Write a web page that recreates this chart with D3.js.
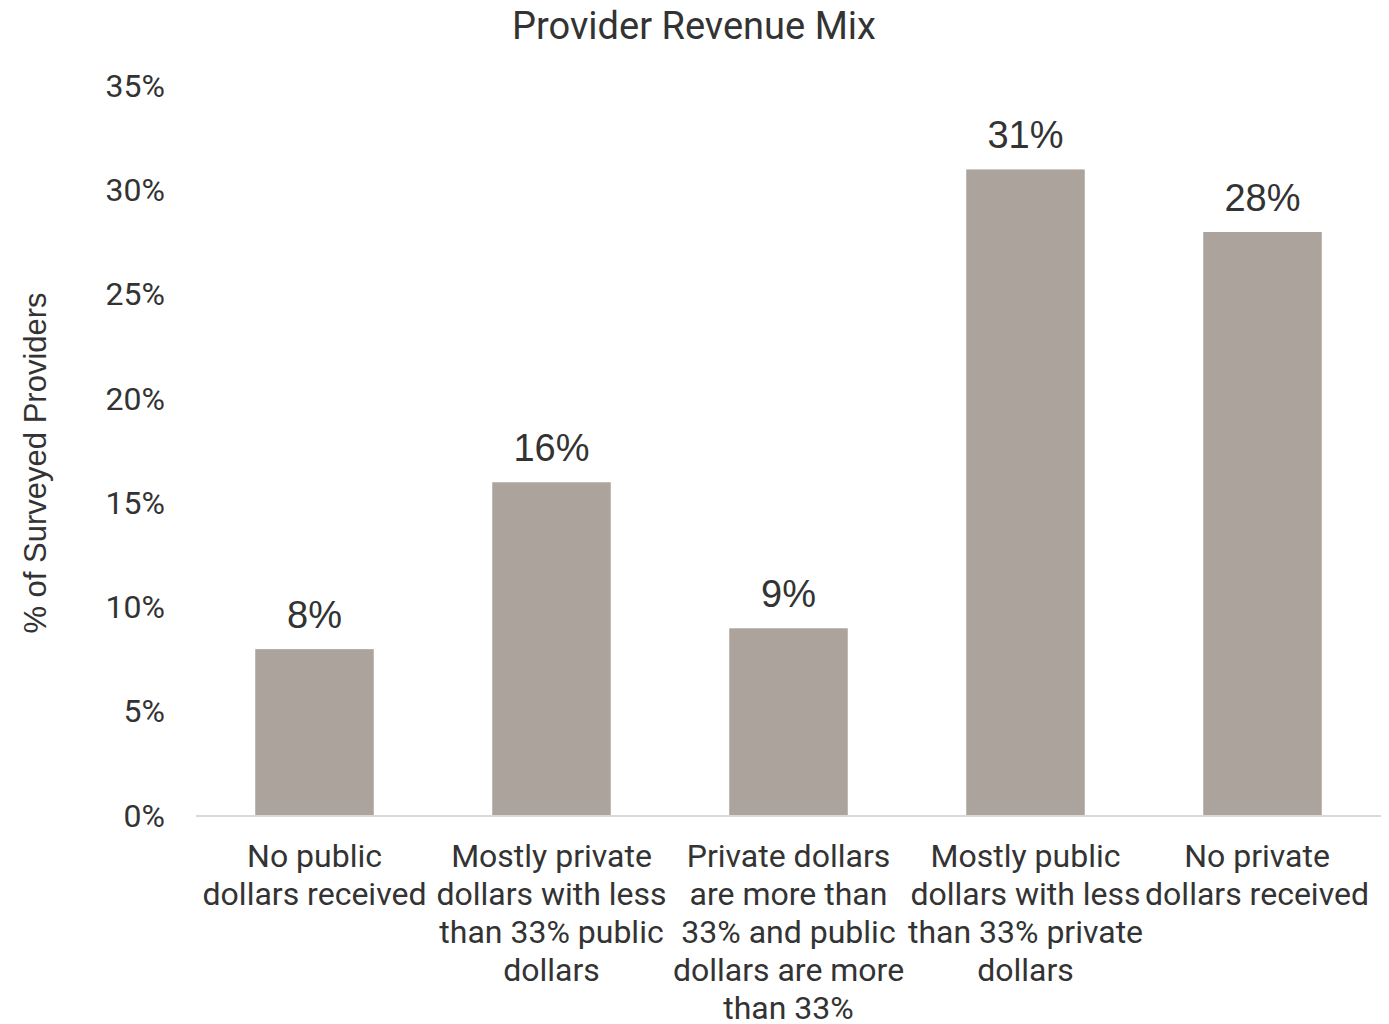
<!DOCTYPE html>
<html>
<head>
<meta charset="utf-8">
<script src="https://cdn.jsdelivr.net/npm/d3@7"></script>
<style>
  html, body { margin: 0; padding: 0; background: #fff; }
  text { font-family: Roboto, "Noto Sans", sans-serif; fill: #333; }
</style>
</head>
<body>
<svg id="chart" width="1389" height="1024"></svg>
<script>
const categories = [
  ["No public", "dollars received"],
  ["Mostly private", "dollars with less", "than 33% public", "dollars"],
  ["Private dollars", "are more than", "33% and public", "dollars are more", "than 33%"],
  ["Mostly public", "dollars with less", "than 33% private", "dollars"],
  ["No private", "dollars received"]
];
const values = [8, 16, 9, 31, 28];
const yTicks = [0, 5, 10, 15, 20, 25, 30, 35];
const title = "Provider Revenue Mix";
const yTitle = "% of Surveyed Providers";

const svg = d3.select("#chart");
const margin = {left: 196, right: 8, top: 86, bottom: 208};
const W = 1389, H = 1024;

const x = d3.scaleBand()
  .domain(d3.range(values.length))
  .range([margin.left, W - margin.right])
  .paddingInner(0.5)
  .paddingOuter(0.25);
const y = d3.scaleLinear().domain([0, 35]).range([H - margin.bottom, margin.top]);

// title
svg.append("text")
  .attr("x", 694).attr("y", 39)
  .attr("text-anchor", "middle")
  .style("font-size", "38px")
  .text(title);

// y axis labels
const yAxis = d3.axisLeft(y).tickValues(yTicks).tickFormat(d => d + "%").tickSize(0).tickPadding(31);
const gy = svg.append("g").attr("transform", `translate(${margin.left},0)`).call(yAxis);
gy.select(".domain").remove();
gy.selectAll("text").style("font-size", "32px").style("font-family", "Roboto").attr("fill", "#333");

// y title
svg.append("text")
  .attr("transform", `translate(46,463) rotate(-90)`)
  .attr("text-anchor", "middle")
  .style("font-family", "'Liberation Sans', Arial, sans-serif")
  .style("font-size", "31px")
  .text(yTitle);

// bars
svg.selectAll("rect.bar").data(values).join("rect")
  .attr("class", "bar")
  .attr("x", (d, i) => x(i))
  .attr("width", x.bandwidth())
  .attr("y", d => y(d))
  .attr("height", d => y(0) - y(d))
  .attr("fill", "#ABA39C");

// x axis line
const xAxis = d3.axisBottom(x).tickSize(0).tickFormat("");
const gx = svg.append("g").attr("transform", `translate(0,${y(0)})`).call(xAxis);
gx.select(".domain").attr("stroke", "#d9d9d9").attr("stroke-width", 2).attr("d", `M${margin.left},0H${W - margin.right}`);

// data labels
svg.selectAll("text.val").data(values).join("text")
  .attr("class", "val")
  .attr("x", (d, i) => x(i) + x.bandwidth() / 2)
  .attr("y", d => y(d) - 21)
  .attr("text-anchor", "middle")
  .style("font-family", "'Liberation Sans', Arial, sans-serif")
  .style("font-size", "38px")
  .text(d => d + "%");

// category labels
categories.forEach((lines, i) => {
  const cx = Math.min(x(i) + x.bandwidth() / 2, W - 132);
  const t = svg.append("text")
    .attr("x", cx)
    .attr("y", y(0) + 51)
    .attr("text-anchor", "middle")
    .style("font-size", "32px");
  lines.forEach((ln, j) => {
    t.append("tspan").attr("x", cx).attr("dy", j === 0 ? 0 : 38).text(ln);
  });
});
</script>
</body>
</html>
